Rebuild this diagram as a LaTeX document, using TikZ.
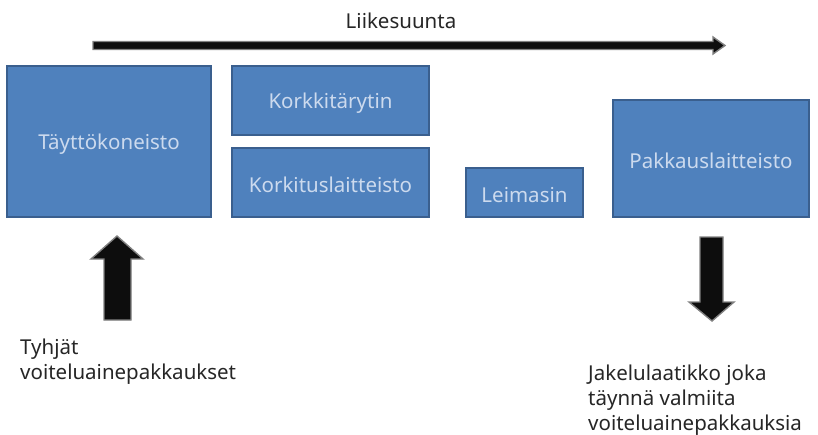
\documentclass[tikz,border=0pt]{standalone}
\usepackage{fontspec}
\setmainfont{Noto Sans}[Ligatures=NoCommon]
\begin{document}
\begin{tikzpicture}[x=1pt,y=-1pt,
  unit/.style={draw=boxedge,line width=1.6pt,fill=boxfill},
  unitlabel/.style={text=boxtext,font=\fontsize{20.5}{24}\selectfont},
  caption/.style={align=left,anchor=north west,inner sep=0pt,font=\fontsize{20.5}{24.8}\selectfont,text=black!85},
  blockarrow/.style={fill=black!95,draw=black!50,line width=1.4pt,line join=miter}]
\definecolor{boxfill}{HTML}{4F81BD}
\definecolor{boxedge}{HTML}{3A5F8E}
\definecolor{boxtext}{HTML}{CCDAEE}
\useasboundingbox (0,0) rectangle (818,434);

% process units
\path[unit] (7,66) rectangle (211,217);
\node[unitlabel] (fill) at (109,144) {Täyttökoneisto};
\path[unit] (232,66) rectangle (429,135);
\node[unitlabel] (shaker) at (330.5,103.5) {Korkkitärytin};
\path[unit] (232,148) rectangle (429,217);
\node[unitlabel] (capper) at (330.5,185) {Korkituslaitteisto};
\path[unit] (466,168) rectangle (583,217);
\node[unitlabel] (stamp) at (524.5,195) {Leimasin};
\path[unit] (613,100) rectangle (809,217);
\node[unitlabel] (packer) at (711,160.5) {Pakkauslaitteisto};

% direction of travel
\node[font=\fontsize{20.5}{24}\selectfont,text=black!85] (dir) at (401,21) {Liikesuunta};
\path[blockarrow] (93,41.5) -- (713,41.5) -- (713,37) -- (725,45.5) -- (713,54) -- (713,49.5) -- (93,49.5) -- cycle;

% incoming empty packages
\path[blockarrow] (104,320) -- (104,259) -- (91,259) -- (117,236) -- (143,259) -- (131,259) -- (131,320) -- cycle;
\node[caption] (empty) at (20,338.5) {Tyhjät\\voiteluainepakkaukset};

% outgoing box
\path[blockarrow] (700,237) -- (723,237) -- (723,302) -- (734,302) -- (712,321) -- (689,302) -- (700,302) -- cycle;
\node[caption] (out) at (588,365) {Jakelulaatikko joka\\täynnä valmiita\\voiteluainepakkauksia};
\end{tikzpicture}
\end{document}
